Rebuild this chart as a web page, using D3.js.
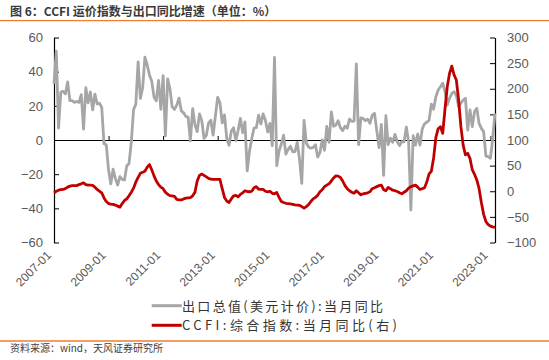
<!DOCTYPE html>
<html><head><meta charset="utf-8">
<script src="https://cdn.jsdelivr.net/npm/d3@7/dist/d3.min.js"></script>
<style>body{margin:0;background:#fff} svg{display:block}</style>
</head><body><svg id="c" width="549" height="360"></svg>
<script>
// 出口总值(美元计价):当月同比, %, monthly 2007-01 .. 2023-03
const exportYoY = [
 33, 52, 7, 28, 28.5, 27, 34, 23, 23, 22, 22.5, 22,
 26.6, 6.4, 30.6, 21.8, 28.1, 17.6, 26.9, 21.1, 21.5, 19.2, -2.2, -2.8,
 -17.5, -25.7, -17.1, -22.6, -26.4, -21.4, -23.0, -23.4, -15.2, -13.8, -1.2, 17.7,
 21.0, 45.7, 24.3, 30.5, 48.5, 43.9, 38.1, 34.4, 25.1, 22.9, 34.9, 17.9,
 37.7, 2.4, 35.8, 29.9, 19.4, 17.9, 20.4, 24.5, 17.1, 15.9, 13.8, 13.4,
 -0.5, 18.4, 8.9, 4.9, 15.3, 11.3, 1.0, 2.7, 9.9, 11.6, 2.9, 14.1,
 25.0, 21.8, 10.0, 14.7, 1.0, -3.1, 5.1, 7.2, -0.3, 5.6, 12.7, 4.3,
 10.6, -18.1, -6.6, 0.9, 7.0, 7.2, 14.5, 9.4, 15.3, 11.6, 4.7, 9.7,
 -3.3, 48.3, -15.0, -6.4, -2.5, 2.8, -8.3, -5.5, -3.7, -6.9, -6.8, -1.4,
 -11.2, -25.4, 11.5, -1.8, -4.1, -4.8, -4.4, -2.8, -10.0, -7.3, 0.1, -6.1,
 7.9, -1.3, 16.4, 8.0, 8.7, 11.3, 7.2, 5.5, 8.1, 6.9, 12.3, 10.9,
 11.1, 44.5, -2.7, 12.9, 12.6, 11.3, 12.2, 9.8, 14.5, 15.6, 5.4, -4.4,
 9.1, -20.7, 14.2, -2.7, 1.1, -1.3, 3.3, -1.0, -3.2, -0.9, -1.1, 7.6,
 -1, -41, 2.5, -3, 3.5, -3, 6.5, 9.5, 10.5, 11.5, 21, 18,
 25.4, 29.3, 31.2, 33.2, 28.3, 20.5, 24.4, 27.3, 28.3, 26, 19.5, 21.5,
 23.4, 24.4, 5.8, 17.6, 7.8, 16.6, 18.5, 9.7, 6.8, 4.9, -9.4, -9.7,
 -10.7, 1, 15.6
];
// CCFI:综合指数:当月同比 (右), %
const ccfiYoY = [
 -3, 0, 2, 3, 3.5, 5, 8, 10, 11, 11, 11, 13,
 14.5, 16.5, 13, 12, 12, 11.5, 8, 3.5, 0, -3, -13, -20,
 -24, -25, -25.5, -27, -29, -31, -24, -18, -15, -9, -2, 6,
 18, 27, 35, 37, 39, 47, 52, 42, 30, 20, 13, 8,
 5, -2, -6, -8.5, -9, -10, -16, -17, -17, -15, -13.5, -13,
 -12.5, -9, -2, 20, 31, 33.5, 31, 28, 25, 23.5, 23, 23,
 23, 23, 5, -12, -19, -22, -15, -9, -8, -11, -6, -3,
 1, -0.5, -1, 0, 7, 9, 4, 3.5, 3.5, 0, -1, 0,
 -4, -5, -2.5, -12, -20, -22, -23.5, -24, -24.5, -25.5, -26.5, -27,
 -27.5, -30, -33, -30, -26, -20, -15, -12, -8, -1, 3, 9,
 12, 14.5, 20, 26, 30, 29.5, 27, 20, 11, 5, 1, -2,
 -4, 1, -3, -7, -5, -4, -3, -1, 5, 7, 9, 11,
 12, 3, 1, 7.5, 5, 2, 1, -0.5, -3, -5, -2, 1,
 6, 9, 10.5, 12, 8, 3.5, 5, 7, 18, 34, 39, 65,
 105, 122, 126, 113, 160, 204, 230, 244, 227, 217, 178, 126,
 90, 71, 74, 64, 42, 33, 22, 5, -22, -45, -59, -65,
 -68, -69.5, -70.5
];
const months = exportYoY.map((_, i) => `${2007 + Math.floor(i / 12)}-${String(i % 12 + 1).padStart(2, "0")}`);
const xTickLabels = ["2007-01","2009-01","2011-01","2013-01","2015-01","2017-01","2019-01","2021-01","2023-01"];
const leftTicks = [-60, -40, -20, 0, 20, 40, 60];
const rightTicks = [-100, -50, 0, 50, 100, 150, 200, 250, 300];
const seriesNames = ["出口总值(美元计价):当月同比", "CCFI:综合指数:当月同比(右)"];
const titleText = "图 6：CCFI 运价指数与出口同比增速（单位：%）";
const sourceText = "资料来源：wind，天风证券研究所";

const svg = d3.select("#c");
const L = 54, R = 495, T = 37.5, B = 242.5;
const GRAY = "#A6A6A6", RED = "#C00000", TXT = "#595959";
const fmt = d => d < 0 ? "\u2212" + Math.abs(d) : String(d);

const x = d3.scalePoint().domain(months).range([L, R]);
const yL = d3.scaleLinear().domain([-60, 60]).range([B, T]);
const yR = d3.scaleLinear().domain([-100, 300]).range([B, T]);

// title + rules
svg.append("text").attr("x", 10).attr("y", 16)
  .attr("font-family", "'Noto Sans CJK SC', sans-serif").attr("font-weight", "bold")
  .attr("font-size", 12).attr("fill", "#3a3a3a").text(titleText);
svg.append("line").attr("x1", 0).attr("x2", 549).attr("y1", 20.7).attr("y2", 20.7)
  .attr("stroke", "#ED7D31").attr("stroke-width", 1.3);
svg.append("line").attr("x1", 0).attr("x2", 549).attr("y1", 341).attr("y2", 341)
  .attr("stroke", "#ED7D31").attr("stroke-width", 1.3);
svg.append("text").attr("x", 10).attr("y", 352)
  .attr("font-family", "'Noto Sans CJK SC', sans-serif")
  .attr("font-size", 10).attr("fill", "#404040").text(sourceText);

// axes
const axL = svg.append("g").attr("transform", `translate(${L},0)`)
  .call(d3.axisLeft(yL).tickValues(leftTicks).tickFormat(fmt).tickSizeInner(-5).tickSizeOuter(0).tickPadding(11));
const axR = svg.append("g").attr("transform", `translate(${R},0)`)
  .call(d3.axisRight(yR).tickValues(rightTicks).tickFormat(fmt).tickSizeInner(-5).tickSizeOuter(0).tickPadding(12));
const axX = svg.append("g").attr("transform", `translate(0,${yL(0)})`)
  .call(d3.axisBottom(x).tickValues(xTickLabels).tickFormat("").tickSizeInner(-4).tickSizeOuter(0));
[axL, axR, axX].forEach(g => {
  g.select(".domain").attr("stroke", "#000").attr("stroke-width", 1.2);
  g.selectAll(".tick line").attr("stroke", "#000").attr("stroke-width", 1);
  g.selectAll("text").attr("font-family", "'Liberation Sans', Arial, sans-serif")
    .attr("font-size", 13).attr("fill", TXT);
});

// x labels rotated
svg.append("g").selectAll("text").data(xTickLabels).join("text")
  .attr("transform", d => `translate(${x(d) - 2},${256}) rotate(-45)`)
  .attr("text-anchor", "end")
  .attr("font-family", "'Liberation Sans', Arial, sans-serif")
  .attr("font-size", 12).attr("fill", TXT).text(d => d);

// lines
const lineL = d3.line().x((d, i) => x(months[i])).y(d => yL(d));
const lineR = d3.line().x((d, i) => x(months[i])).y(d => yR(d));
svg.append("path").datum(exportYoY).attr("d", lineL).attr("fill", "none")
  .attr("stroke", GRAY).attr("stroke-width", 2.8).attr("stroke-linejoin", "round");
svg.append("path").datum(ccfiYoY).attr("d", lineR).attr("fill", "none")
  .attr("stroke", RED).attr("stroke-width", 2.8).attr("stroke-linejoin", "round");

// legend
const leg = svg.append("g");
const legY = [305.7, 325.3], legW = [201, 215], legC = [GRAY, RED];
seriesNames.forEach((s, k) => {
  leg.append("line").attr("x1", 151.7).attr("x2", 181.7).attr("y1", legY[k]).attr("y2", legY[k])
    .attr("stroke", legC[k]).attr("stroke-width", 3);
  leg.append("text").attr("x", 182).attr("y", legY[k] + 4.8)
    .attr("font-family", "'Noto Sans CJK SC', sans-serif").attr("font-size", 13)
    .attr("fill", "#333").attr("textLength", legW[k]).attr("lengthAdjust", "spacing").text(s);
});
</script></body></html>
